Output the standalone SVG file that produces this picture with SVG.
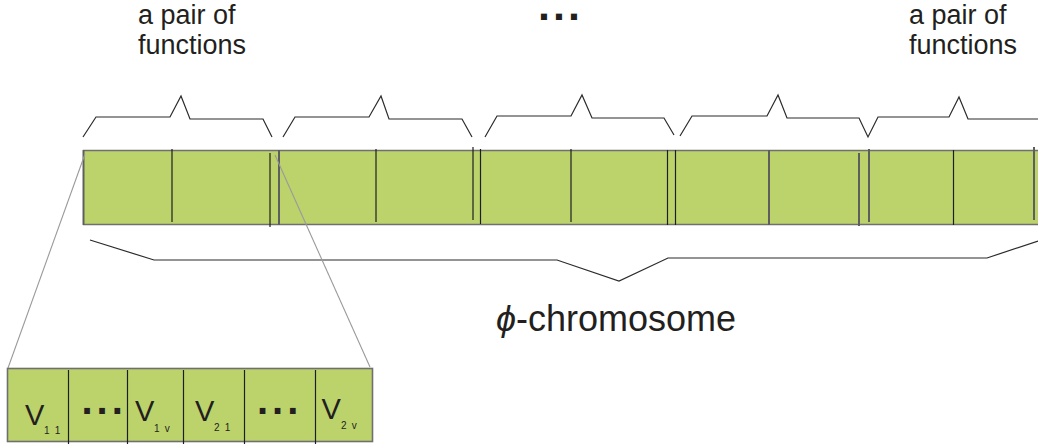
<svg xmlns="http://www.w3.org/2000/svg" width="1038" height="445" viewBox="0 0 1038 445">
<style>
.lbl{font-family:"Liberation Sans",Arial,sans-serif;fill:#231f20}
.big{font-size:27px}
.dots{font-family:"Liberation Sans",Arial,sans-serif;font-weight:bold;fill:#231f20}
.brace{fill:none;stroke:#2b2b2b;stroke-width:1.2;stroke-linejoin:miter}
.cell{fill:#bcd36c;stroke:none}
.edge{stroke:#6f6f6f;stroke-width:1.6;fill:none}
.thin{stroke:#1e1e1e;stroke-width:1.2}
.thick{stroke:#5e5e5e;stroke-width:2}
.zoom{stroke:#9a9a9a;stroke-width:1.1;fill:none}
.v{font-family:"Liberation Sans",Arial,sans-serif;font-size:29px;fill:#231f20}
.sub{font-family:"Liberation Sans",Arial,sans-serif;font-size:10px;letter-spacing:1.2px;fill:#231f20}
</style>
<g id="labels">
<text class="lbl big" x="138" y="24">a pair of</text>
<text class="lbl big" x="138" y="54">functions</text>
<text class="lbl big" x="909" y="24">a pair of</text>
<text class="lbl big" x="909" y="54">functions</text>
<text class="dots" x="538" y="20" font-size="43" letter-spacing="3">...</text>
<text class="lbl" x="496" y="331" font-size="36"><tspan font-style="italic">ϕ</tspan>-chromosome</text>
</g>
<g id="braces">
<polyline class="brace" points="83,137 96,117 170,117 181,96 190,119 263,119 272,137"/>
<polyline class="brace" points="283,137 295,117 369,117 381,96 389,119 462,119 472,137"/>
<polyline class="brace" points="485,137 497,116 571,116 582,95 592,118 664,118 674,135"/>
<polyline class="brace" points="680,136 692,116 767,116 778,95 787,118 859,118 868,137 878,117 949,117 959,97 968,119 1038,119"/>
<polyline class="brace" points="90,240 154,260 557,260 619,281 668,258 987,258 1038,241"/>
</g>
<g id="chromosome">
<rect class="cell" x="83" y="150.5" width="960" height="74"/>
<line class="edge" x1="83" y1="150.5" x2="1038" y2="150.5"/>
<line class="edge" x1="83" y1="224.5" x2="1038" y2="224.5"/>
<line class="thick" x1="83.5" y1="150" x2="83.5" y2="225"/>
<line class="thin" x1="172" y1="149" x2="172" y2="222"/>
<line class="thin" x1="270" y1="153" x2="270" y2="227"/>
<line class="thick" x1="279" y1="150" x2="279" y2="225"/>
<line class="thin" x1="376" y1="149" x2="376" y2="222"/>
<line class="thin" x1="473" y1="147" x2="473" y2="220"/>
<line class="thin" x1="480.5" y1="149" x2="480.5" y2="224"/>
<line class="thin" x1="571" y1="149" x2="571" y2="222"/>
<line class="thin" x1="667.5" y1="150" x2="667.5" y2="225"/>
<line class="thin" x1="675.5" y1="150" x2="675.5" y2="225"/>
<line class="thick" x1="769" y1="150" x2="769" y2="225"/>
<line class="thick" x1="859" y1="153" x2="859" y2="226"/>
<line class="thick" x1="869" y1="149" x2="869" y2="222"/>
<line class="thin" x1="953.5" y1="150" x2="953.5" y2="225"/>
<line class="thick" x1="1034" y1="147" x2="1034" y2="220"/>
</g>
<g id="connectors">
<line class="zoom" x1="85" y1="154" x2="8" y2="368"/>
<line class="zoom" x1="275" y1="155" x2="370" y2="367"/>
</g>
<g id="detail">
<rect class="cell" x="7.5" y="368.5" width="365" height="73"/>
<rect class="edge" x="7.5" y="368.5" width="365" height="73"/>
<line class="thin" x1="68.5" y1="370" x2="68.5" y2="444"/>
<line class="thin" x1="127.5" y1="370" x2="127.5" y2="444"/>
<line class="thin" x1="183.5" y1="370" x2="183.5" y2="444"/>
<line class="thin" x1="244.5" y1="370" x2="244.5" y2="444"/>
<line class="thin" x1="315.5" y1="370" x2="315.5" y2="444"/>
<text class="v" x="25" y="425">V</text>
<text class="sub" x="44" y="434">1 1</text>
<text class="dots" x="81.5" y="414" font-size="40" letter-spacing="4">...</text>
<text class="v" x="135" y="421">V</text>
<text class="sub" x="154" y="431.5">1 v</text>
<text class="v" x="195" y="421">V</text>
<text class="sub" x="214" y="431">2 1</text>
<text class="dots" x="257" y="414" font-size="40" letter-spacing="4">...</text>
<text class="v" x="321.5" y="419">V</text>
<text class="sub" x="341" y="428.5">2 v</text>
</g>
</svg>
